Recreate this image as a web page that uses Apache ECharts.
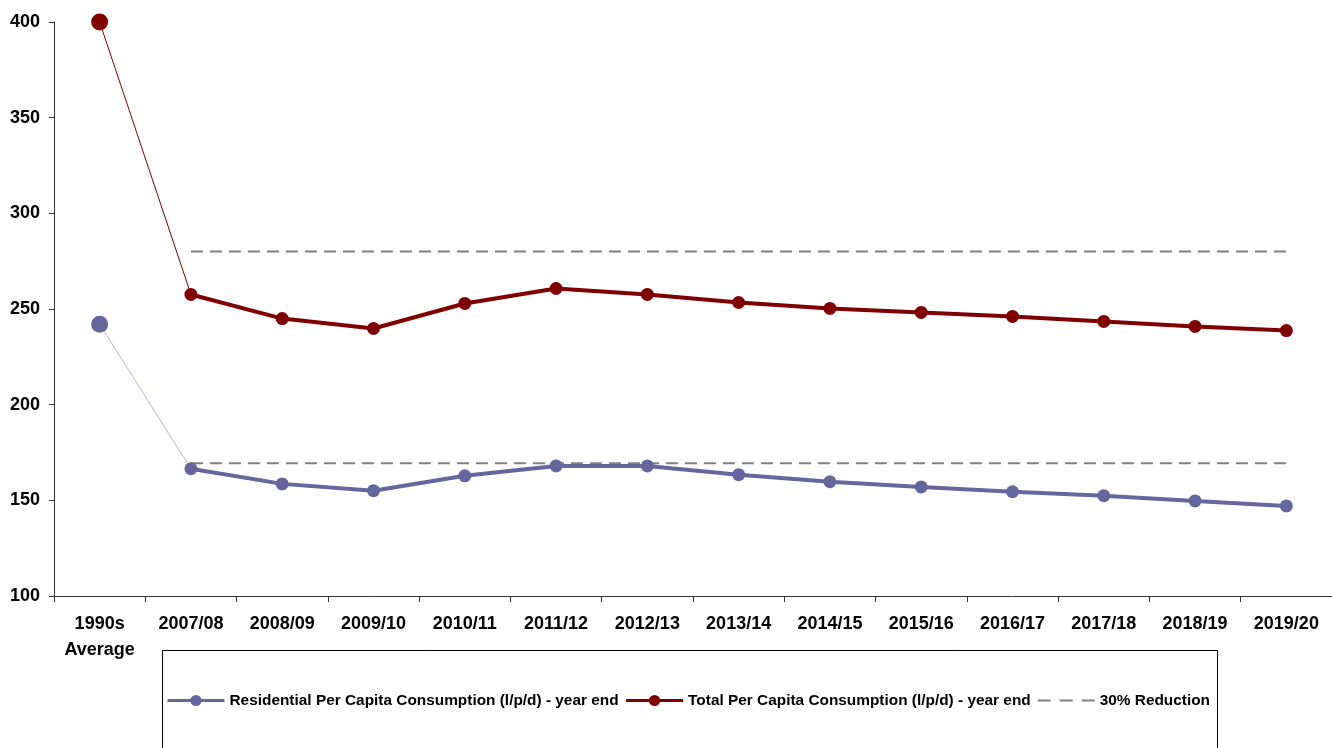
<!DOCTYPE html>
<html>
<head>
<meta charset="utf-8">
<script src="https://cdn.jsdelivr.net/npm/echarts@6/dist/echarts.min.js"></script>
<style>
  html, body { margin: 0; padding: 0; background: #fff; }
  #chart { width: 1332px; height: 748px; }
</style>
</head>
<body>
<div id="chart"></div>
<script>
// Per capita water consumption, litres per person per day
const categories = ['1990s\nAverage', '2007/08', '2008/09', '2009/10', '2010/11', '2011/12', '2012/13',
  '2013/14', '2014/15', '2015/16', '2016/17', '2017/18', '2018/19', '2019/20'];
const residential = [242, 166.5, 158.6, 155, 162.8, 168, 168, 163.4, 159.7, 157, 154.5, 152.4, 149.7, 147.1];
const total = [400, 257.6, 245, 239.8, 252.9, 260.7, 257.6, 253.4, 250.3, 248.2, 246.1, 243.5, 240.9, 238.7];
// 30% reduction targets against the 1990s average
const totalTarget = [null, 280, 280, 280, 280, 280, 280, 280, 280, 280, 280, 280, 280, 280];
const residentialTarget = [null, 169.4, 169.4, 169.4, 169.4, 169.4, 169.4, 169.4, 169.4, 169.4, 169.4, 169.4, 169.4, 169.4];

const RES_NAME = 'Residential Per Capita Consumption (l/p/d) - year end';
const TOT_NAME = 'Total Per Capita Consumption (l/p/d) - year end';
const RED_NAME = '30% Reduction';

const blue = '#66669e';
const red = '#800000';
const grey = '#808080';
const font = '"Liberation Sans", Arial, sans-serif';

// thin link from the baseline point to the first annual point
const linkData = arr => arr.map((v, i) => (i < 2 ? v : '-'));
const annualData = arr => arr.map((v, i) => (i === 0 ? '-' : v));
const targetData = arr => arr.map(v => (v == null ? '-' : v));

const chart = echarts.init(document.getElementById('chart'));
chart.setOption({
  animation: false,
  backgroundColor: '#fff',
  textStyle: { fontFamily: font },
  grid: { left: 54, right: -6, top: 22, bottom: 152, containLabel: false },
  xAxis: {
    type: 'category',
    data: categories,
    boundaryGap: true,
    axisLine: { lineStyle: { color: '#333', width: 1 } },
    axisTick: { show: true, length: 6, lineStyle: { color: '#333' }, alignWithLabel: false },
    axisLabel: {
      interval: 0, margin: 15, color: '#000', fontWeight: 'bold', fontSize: 18,
      fontFamily: font, lineHeight: 26
    },
    splitLine: { show: false }
  },
  yAxis: {
    type: 'value',
    min: 100, max: 400, interval: 50,
    axisLine: { show: true, lineStyle: { color: '#333', width: 1 } },
    axisTick: { show: true, length: 5, lineStyle: { color: '#333' } },
    axisLabel: { margin: 14, color: '#000', fontWeight: 'bold', fontSize: 18, fontFamily: font },
    splitLine: { show: false }
  },
  legend: {
    data: [
      { name: RES_NAME, lineStyle: { width: 3 } },
      { name: TOT_NAME, lineStyle: { width: 3 } },
      {
        name: RED_NAME,
        itemStyle: { color: 'transparent', borderWidth: 0, opacity: 0 },
        lineStyle: { width: 2, type: [13, 9] }
      }
    ],
    left: 166, top: 693, padding: 0,
    itemWidth: 57, itemHeight: 14, itemGap: 6,
    textStyle: { fontFamily: font, fontWeight: 'bold', fontSize: 15.4, color: '#000' }
  },
  graphic: [{
    type: 'rect',
    shape: { x: 162.5, y: 650.5, width: 1055, height: 120 },
    style: { fill: 'none', stroke: '#000', lineWidth: 1 },
    silent: true
  }],
  series: [
    {
      name: 'residential-link', type: 'line', data: linkData(residential),
      lineStyle: { color: '#b4b4d4', width: 1 }, itemStyle: { color: blue },
      symbol: 'circle', symbolSize: (v, p) => (p.dataIndex === 0 ? 17 : 0), z: 2
    },
    {
      name: 'total-link', type: 'line', data: linkData(total),
      lineStyle: { color: red, width: 1 }, itemStyle: { color: red },
      symbol: 'circle', symbolSize: (v, p) => (p.dataIndex === 0 ? 17 : 0), z: 2
    },
    {
      name: RED_NAME, type: 'line', data: targetData(totalTarget),
      symbol: 'none', lineStyle: { color: grey, width: 2, type: [12, 7] }, itemStyle: { color: grey }, z: 1
    },
    {
      name: RED_NAME, type: 'line', data: targetData(residentialTarget),
      symbol: 'none', lineStyle: { color: grey, width: 2, type: [12, 7] }, itemStyle: { color: grey }, z: 1
    },
    {
      name: RES_NAME, type: 'line', data: annualData(residential),
      symbol: 'circle', symbolSize: 13,
      lineStyle: { color: blue, width: 4 }, itemStyle: { color: blue }, z: 3
    },
    {
      name: TOT_NAME, type: 'line', data: annualData(total),
      symbol: 'circle', symbolSize: 13,
      lineStyle: { color: red, width: 4 }, itemStyle: { color: red }, z: 3
    }
  ]
});
</script>
</body>
</html>
